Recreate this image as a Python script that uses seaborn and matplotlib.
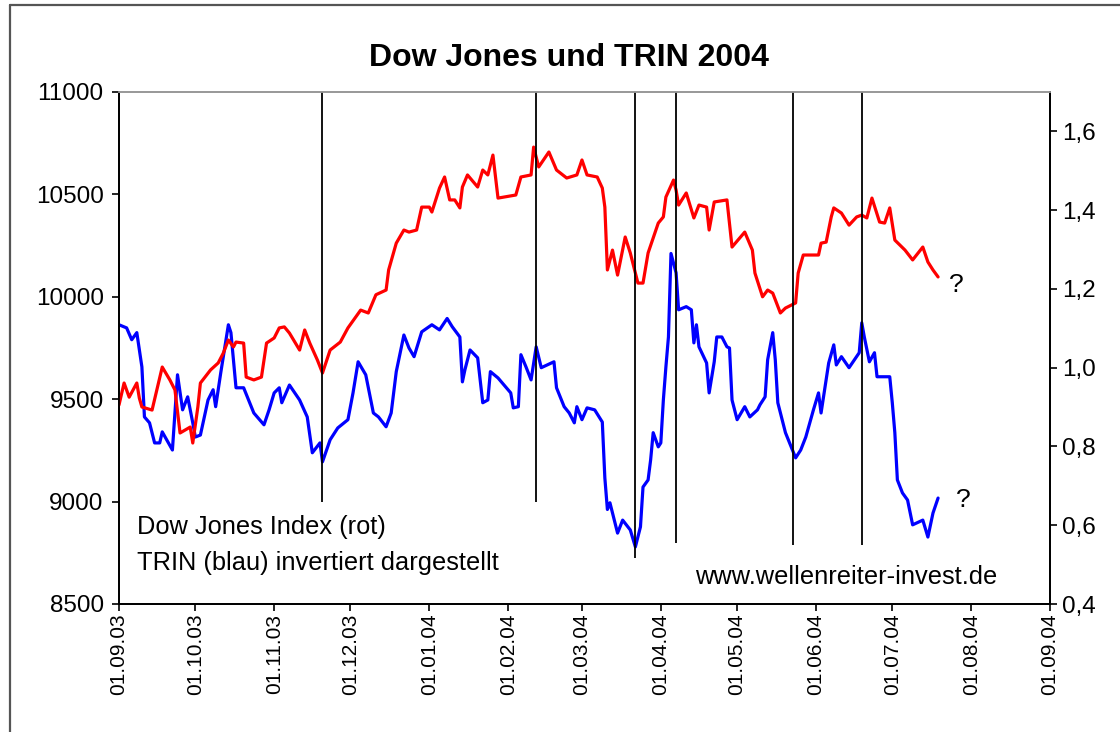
import matplotlib
matplotlib.use('Agg')
import pandas as pd
import matplotlib.pyplot as plt
import matplotlib.dates as mdates
from matplotlib.lines import Line2D
from matplotlib.ticker import FuncFormatter
import seaborn as sns

# Dow Jones (red, left axis)
dj_dates = ['2003-09-01', '2003-09-03', '2003-09-05', '2003-09-08', '2003-09-09', '2003-09-10', '2003-09-14', '2003-09-18', '2003-09-21', '2003-09-23',
            '2003-09-25', '2003-09-29', '2003-09-30', '2003-10-02', '2003-10-03', '2003-10-07', '2003-10-10', '2003-10-12', '2003-10-14', '2003-10-16',
            '2003-10-17', '2003-10-20', '2003-10-21', '2003-10-24', '2003-10-27', '2003-10-29', '2003-11-01', '2003-11-03', '2003-11-05', '2003-11-07',
            '2003-11-11', '2003-11-13', '2003-11-15', '2003-11-18', '2003-11-20', '2003-11-23', '2003-11-27', '2003-11-30', '2003-12-05', '2003-12-08',
            '2003-12-11', '2003-12-15', '2003-12-16', '2003-12-19', '2003-12-22', '2003-12-24', '2003-12-27', '2003-12-29', '2004-01-01', '2004-01-02',
            '2004-01-05', '2004-01-07', '2004-01-09', '2004-01-11', '2004-01-13', '2004-01-14', '2004-01-16', '2004-01-20', '2004-01-22', '2004-01-24',
            '2004-01-26', '2004-01-28', '2004-02-04', '2004-02-06', '2004-02-10', '2004-02-11', '2004-02-13', '2004-02-17', '2004-02-20', '2004-02-24',
            '2004-02-28', '2004-03-01', '2004-03-03', '2004-03-07', '2004-03-09', '2004-03-10', '2004-03-11', '2004-03-13', '2004-03-15', '2004-03-18',
            '2004-03-20', '2004-03-23', '2004-03-25', '2004-03-27', '2004-03-31', '2004-04-02', '2004-04-03', '2004-04-06', '2004-04-07', '2004-04-08',
            '2004-04-11', '2004-04-14', '2004-04-16', '2004-04-19', '2004-04-20', '2004-04-22', '2004-04-27', '2004-04-29', '2004-05-04', '2004-05-07',
            '2004-05-08', '2004-05-11', '2004-05-13', '2004-05-15', '2004-05-18', '2004-05-20', '2004-05-24', '2004-05-25', '2004-05-27', '2004-06-02',
            '2004-06-03', '2004-06-05', '2004-06-07', '2004-06-08', '2004-06-11', '2004-06-14', '2004-06-17', '2004-06-19', '2004-06-21', '2004-06-23',
            '2004-06-26', '2004-06-28', '2004-06-30', '2004-07-02', '2004-07-06', '2004-07-09', '2004-07-13', '2004-07-15', '2004-07-17', '2004-07-19']
dj_values = [9472, 9579, 9510, 9579, 9505, 9462, 9447, 9657, 9594, 9545,
             9335, 9364, 9286, 9462, 9579, 9643, 9677, 9725, 9789, 9755,
             9779, 9774, 9608, 9594, 9608, 9774, 9799, 9848, 9853, 9823,
             9740, 9838, 9774, 9691, 9628, 9740, 9779, 9848, 9935, 9921,
             10010, 10033, 10131, 10262, 10326, 10316, 10326, 10438, 10438, 10414,
             10531, 10585, 10473, 10473, 10434, 10536, 10595, 10536, 10619, 10595,
             10692, 10482, 10497, 10585, 10595, 10731, 10634, 10707, 10619, 10580,
             10595, 10668, 10595, 10585, 10531, 10438, 10131, 10228, 10106, 10292,
             10214, 10067, 10067, 10214, 10360, 10390, 10487, 10570, 10521, 10448,
             10507, 10385, 10448, 10438, 10326, 10463, 10473, 10243, 10316, 10228,
             10116, 10000, 10033, 10018, 9921, 9945, 9970, 10116, 10204, 10204,
             10262, 10267, 10390, 10434, 10409, 10350, 10390, 10399, 10385, 10482,
             10365, 10360, 10434, 10277, 10228, 10180, 10243, 10170, 10131, 10097]

# TRIN (blue, right axis, shown inverted)
trin_dates = ['2003-09-01', '2003-09-04', '2003-09-06', '2003-09-08', '2003-09-10', '2003-09-11', '2003-09-13', '2003-09-15', '2003-09-17', '2003-09-18',
              '2003-09-22', '2003-09-24', '2003-09-26', '2003-09-28', '2003-09-30', '2003-10-01', '2003-10-03', '2003-10-06', '2003-10-08', '2003-10-09',
              '2003-10-11', '2003-10-14', '2003-10-15', '2003-10-17', '2003-10-20', '2003-10-24', '2003-10-28', '2003-10-30', '2003-11-01', '2003-11-03',
              '2003-11-04', '2003-11-07', '2003-11-11', '2003-11-14', '2003-11-16', '2003-11-19', '2003-11-20', '2003-11-23', '2003-11-26', '2003-11-30',
              '2003-12-02', '2003-12-04', '2003-12-07', '2003-12-10', '2003-12-12', '2003-12-15', '2003-12-17', '2003-12-19', '2003-12-22', '2003-12-24',
              '2003-12-26', '2003-12-29', '2004-01-02', '2004-01-05', '2004-01-08', '2004-01-10', '2004-01-13', '2004-01-14', '2004-01-15', '2004-01-17',
              '2004-01-20', '2004-01-22', '2004-01-24', '2004-01-25', '2004-01-28', '2004-02-02', '2004-02-03', '2004-02-05', '2004-02-06', '2004-02-08',
              '2004-02-10', '2004-02-12', '2004-02-14', '2004-02-19', '2004-02-20', '2004-02-23', '2004-02-25', '2004-02-27', '2004-02-28', '2004-03-01',
              '2004-03-03', '2004-03-06', '2004-03-09', '2004-03-10', '2004-03-11', '2004-03-12', '2004-03-13', '2004-03-15', '2004-03-17', '2004-03-20',
              '2004-03-22', '2004-03-24', '2004-03-25', '2004-03-27', '2004-03-28', '2004-03-29', '2004-03-31', '2004-04-01', '2004-04-02', '2004-04-03',
              '2004-04-04', '2004-04-05', '2004-04-07', '2004-04-08', '2004-04-11', '2004-04-13', '2004-04-14', '2004-04-15', '2004-04-16', '2004-04-19',
              '2004-04-20', '2004-04-22', '2004-04-23', '2004-04-25', '2004-04-27', '2004-04-28', '2004-04-29', '2004-05-01', '2004-05-04', '2004-05-06',
              '2004-05-09', '2004-05-10', '2004-05-12', '2004-05-13', '2004-05-15', '2004-05-16', '2004-05-17', '2004-05-20', '2004-05-24', '2004-05-26',
              '2004-05-28', '2004-05-31', '2004-06-02', '2004-06-03', '2004-06-05', '2004-06-06', '2004-06-08', '2004-06-09', '2004-06-11', '2004-06-14',
              '2004-06-18', '2004-06-19', '2004-06-20', '2004-06-22', '2004-06-24', '2004-06-25', '2004-06-30', '2004-07-01', '2004-07-02', '2004-07-03',
              '2004-07-05', '2004-07-07', '2004-07-09', '2004-07-13', '2004-07-15', '2004-07-17', '2004-07-19']
trin_values = [1.109, 1.101, 1.071, 1.089, 1.002, 0.875, 0.860, 0.809, 0.809, 0.837,
               0.791, 0.982, 0.893, 0.926, 0.860, 0.824, 0.829, 0.918, 0.944, 0.901,
               0.987, 1.109, 1.089, 0.949, 0.949, 0.885, 0.855, 0.893, 0.936, 0.949,
               0.911, 0.956, 0.918, 0.875, 0.784, 0.809, 0.761, 0.817, 0.847, 0.868,
               0.936, 1.015, 0.982, 0.885, 0.875, 0.850, 0.885, 0.990, 1.083, 1.050,
               1.028, 1.091, 1.109, 1.096, 1.125, 1.104, 1.078, 0.964, 0.995, 1.045,
               1.025, 0.911, 0.918, 0.990, 0.974, 0.936, 0.898, 0.901, 1.033, 1.002,
               0.969, 1.053, 1.000, 1.015, 0.949, 0.901, 0.885, 0.860, 0.901, 0.868,
               0.898, 0.893, 0.862, 0.720, 0.640, 0.657, 0.631, 0.580, 0.613, 0.588,
               0.545, 0.596, 0.697, 0.715, 0.766, 0.835, 0.799, 0.809, 0.918, 1.002,
               1.078, 1.290, 1.241, 1.147, 1.155, 1.147, 1.063, 1.109, 1.053, 1.012,
               0.936, 1.015, 1.078, 1.078, 1.053, 1.050, 0.918, 0.868, 0.901, 0.875,
               0.893, 0.906, 0.926, 1.020, 1.089, 1.020, 0.911, 0.835, 0.771, 0.791,
               0.824, 0.893, 0.936, 0.885, 0.969, 1.012, 1.058, 1.007, 1.028, 1.000,
               1.038, 1.114, 1.078, 1.015, 1.038, 0.977, 0.977, 0.911, 0.835, 0.715,
               0.682, 0.664, 0.601, 0.613, 0.570, 0.631, 0.669]

# vertical marker lines (date, lower end on the Dow scale)
marker_dates = ['2003-11-20', '2004-02-12', '2004-03-22', '2004-04-07', '2004-05-23', '2004-06-19']
marker_bottoms = [9000, 9000, 8725, 8800, 8790, 8790]

month_ticks = pd.date_range('2003-09-01', '2004-09-01', freq='MS')

dj_df = pd.DataFrame({'date': pd.to_datetime(dj_dates), 'dow': dj_values})
trin_df = pd.DataFrame({'date': pd.to_datetime(trin_dates), 'trin': trin_values})

sns.set_theme(style='ticks')
plt.rcParams['font.family'] = ['Liberation Sans', 'DejaVu Sans']
plt.rcParams['text.color'] = 'black'

fig = plt.figure(figsize=(11.2, 7.32), dpi=100)
ax = fig.add_axes([119 / 1120, 1 - 604 / 732, 931 / 1120, 512 / 732])
ax2 = ax.twinx()

sns.lineplot(data=trin_df, x='date', y='trin', ax=ax2, color='#0000ff', lw=2.3, estimator=None)
sns.lineplot(data=dj_df, x='date', y='dow', ax=ax, color='#ff0000', lw=2.3, estimator=None)

# red and markers above blue
ax.set_zorder(ax2.get_zorder() + 1)
ax.patch.set_visible(False)
ax2.patch.set_facecolor('white')
ax2.patch.set_visible(True)

ax.vlines(pd.to_datetime(marker_dates), marker_bottoms, 11000, color='black', lw=1.3)

ax.set_xlim(pd.Timestamp('2003-09-01'), pd.Timestamp('2004-09-01'))
ax.set_ylim(8500, 11000)
ax2.set_ylim(0.4, 1.7)
ax.set_yticks(range(8500, 11001, 500))
ax2.set_yticks([0.4, 0.6, 0.8, 1.0, 1.2, 1.4, 1.6])
ax2.yaxis.set_major_formatter(FuncFormatter(lambda v, p: f'{v:.1f}'.replace('.', ',')))
ax.set_xticks(month_ticks)
ax.xaxis.set_major_formatter(mdates.DateFormatter('%d.%m.%y'))
ax.set_xlabel('')
ax.set_ylabel('')
ax2.set_ylabel('')

ax.tick_params(axis='y', direction='out', length=5, width=1.2, colors='black', labelsize=17.5, pad=6)
ax.tick_params(axis='x', direction='out', length=5, width=1.2, colors='black', labelsize=15, pad=2, labelrotation=90)
ax2.tick_params(axis='y', direction='out', length=5, width=1.2, colors='black', labelsize=17.5, pad=4)

for a in (ax, ax2):
    for side in ['left', 'right', 'bottom']:
        a.spines[side].set_color('black')
        a.spines[side].set_linewidth(1.3)
    a.spines['top'].set_color('#9a9a9a')
    a.spines['top'].set_linewidth(1.3)

fig.text(569 / 1120, 1 - 58 / 732, 'Dow Jones und TRIN 2004', ha='center', va='center',
         fontsize=23, fontweight='bold')

ax.text(0.019, 0.150, 'Dow Jones Index (rot)', transform=ax.transAxes, fontsize=18.3, ha='left', va='center')
ax.text(0.019, 0.080, 'TRIN (blau) invertiert dargestellt', transform=ax.transAxes, fontsize=18.3, ha='left', va='center')
ax.text(0.943, 0.053, 'www.wellenreiter-invest.de', transform=ax.transAxes, fontsize=18.3, ha='right', va='center')

ax.text(pd.Timestamp('2004-07-26'), 10058, '?', fontsize=19, ha='center', va='center')
ax2.text(pd.Timestamp('2004-07-29'), 0.664, '?', fontsize=19, ha='center', va='center')

# outer frame of the chart area
fig.add_artist(Line2D([10 / 1120, 1], [1 - 5 / 732, 1 - 5 / 732], transform=fig.transFigure, color='#555555', lw=1.6))
fig.add_artist(Line2D([10 / 1120, 10 / 1120], [0, 1 - 5 / 732], transform=fig.transFigure, color='#555555', lw=1.6))

fig.savefig('out.png', dpi=100)
